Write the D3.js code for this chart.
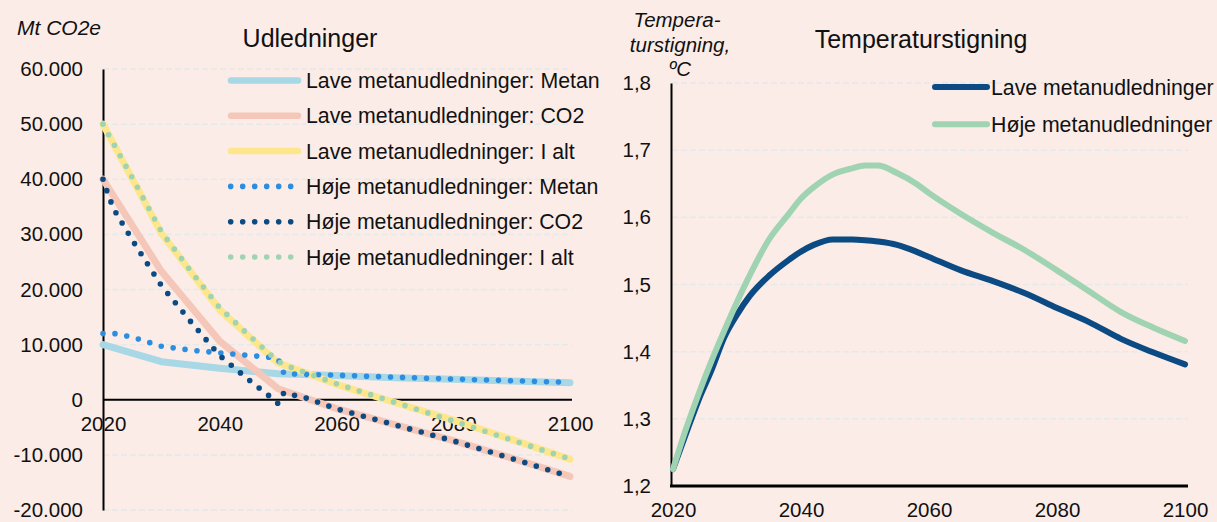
<!DOCTYPE html>
<html>
<head>
<meta charset="utf-8">
<script src="https://cdn.jsdelivr.net/npm/d3@7"></script>
<style>
  html, body { margin: 0; padding: 0; background: #fbece7; }
  svg { display: block; font-family: "Liberation Sans", Arial, sans-serif; }
</style>
</head>
<body>
<svg id="chart" width="1217" height="522"></svg>
<script>
// ---------- Data: Udledninger (Mt CO2e) ----------
const yearsLave = [2020, 2030, 2040, 2050, 2060, 2070, 2080, 2090, 2100];
const laveMetan = [10000, 6900, 5700, 4700, 4400, 4000, 3700, 3400, 3100];
const laveCO2   = [40000, 23300, 10600, 2000, -1600, -4500, -7400, -10600, -13900];
const laveIalt  = [50000, 30200, 16300, 6700, 2800, -500, -3700, -7200, -10800];

const yearsHoje = [2020, 2021, 2022, 2025, 2030, 2035, 2040, 2045, 2049, 2050, 2051, 2055, 2060, 2070, 2080, 2090, 2100];
const hojeMetan = [12000, 12050, 12000, 11350, 9700, 9000, 8500, 8050, 7650, 7400, 4750, 4600, 4450, 4100, 3750, 3450, 3150];
const hojeCO2   = [40000, 36800, 34300, 29000, 20700, 14200, 8000, 3600, 250, -700, 1300, 250, -1650, -4550, -7450, -10650, -13950];
const hojeIalt  = [50000, 48000, 46100, 40300, 30500, 23400, 16700, 11700, 7900, 7000, 6350, 4820, 2900, -480, -3850, -7300, -10750];

const emisLabels = ["Lave metanudledninger: Metan", "Lave metanudledninger: CO2", "Lave metanudledninger: I alt",
                    "Høje metanudledninger: Metan", "Høje metanudledninger: CO2", "Høje metanudledninger: I alt"];
const emisTicks = [-20000, -10000, 0, 10000, 20000, 30000, 40000, 50000, 60000];
const yearTicks = [2020, 2040, 2060, 2080, 2100];

// ---------- Data: Temperaturstigning (ºC) ----------
const yearsTemp = [2020, 2022, 2024, 2026, 2028, 2030, 2032, 2035, 2038, 2040, 2042, 2045, 2048, 2050, 2052, 2055, 2058, 2060, 2065, 2070, 2075, 2080, 2085, 2090, 2095, 2100];
const tempLave  = [1.225, 1.277, 1.328, 1.372, 1.421, 1.455, 1.483, 1.513, 1.536, 1.549, 1.559, 1.567, 1.567, 1.566, 1.564, 1.559, 1.549, 1.541, 1.521, 1.505, 1.487, 1.465, 1.444, 1.419, 1.399, 1.381];
const tempHoje  = [1.225, 1.284, 1.337, 1.386, 1.431, 1.474, 1.514, 1.567, 1.604, 1.628, 1.645, 1.664, 1.673, 1.677, 1.677, 1.666, 1.650, 1.636, 1.605, 1.577, 1.551, 1.521, 1.490, 1.459, 1.436, 1.416];
const tempLabels = ["Lave metanudledninger", "Høje metanudledninger"];
const tempTicks = [1.2, 1.3, 1.4, 1.5, 1.6, 1.7, 1.8];

// ---------- Styles ----------
const FONT = 20.5;
const LEG_FONT = 21.3;
const emisStyles = [
  { color: "#a8d8e6", dotted: false },
  { color: "#f5c7b9", dotted: false },
  { color: "#fde68c", dotted: false },
  { color: "#2c8ee0", dotted: true },
  { color: "#0b4a82", dotted: true },
  { color: "#9fd3b1", dotted: true }
];
const tempColors = ["#0b4a82", "#9fd3b1"];
const gridColor = "#e4e9e9";

const loc = d3.formatLocale({ decimal: ",", thousands: ".", grouping: [3], currency: ["", " kr"], minus: "-" });
const fmtEmis = loc.format(",.0f");
const fmtTemp = loc.format(".1f");

const svg = d3.select("#chart");

// ================= LEFT CHART =================
const xL = d3.scaleLinear().domain([2020, 2100]).range([103, 570]);
const yL = d3.scaleLinear().domain([-20000, 60000]).range([510, 69]);

const gL = svg.append("g");

gL.append("g").selectAll("line").data(emisTicks).join("line")
  .attr("x1", xL(2020)).attr("x2", 572)
  .attr("y1", d => yL(d)).attr("y2", d => yL(d))
  .attr("stroke", gridColor).attr("stroke-width", 1.5).attr("stroke-dasharray", "6 3");

const yAxisL = gL.append("g").attr("transform", `translate(${xL(2020)},0)`)
  .call(d3.axisLeft(yL).tickValues(emisTicks).tickFormat(fmtEmis).tickSize(0).tickPadding(20));
yAxisL.select(".domain").attr("stroke", "#000").attr("stroke-width", 2);
yAxisL.selectAll("text").attr("font-size", FONT).attr("fill", "#111").attr("font-family", "Liberation Sans, Arial, sans-serif");

const xAxisL = gL.append("g").attr("transform", `translate(0,${yL(0)})`)
  .call(d3.axisBottom(xL).tickValues(yearTicks).tickFormat(d3.format("d")).tickSize(0).tickPadding(17));
xAxisL.select(".domain").attr("stroke", "#000").attr("stroke-width", 2).attr("d", `M${xL(2020)},0H572`);
xAxisL.selectAll("text").attr("font-size", FONT).attr("fill", "#111").attr("font-family", "Liberation Sans, Arial, sans-serif");

const emisSeries = [
  { years: yearsLave, values: laveMetan },
  { years: yearsLave, values: laveCO2 },
  { years: yearsLave, values: laveIalt },
  { years: yearsHoje, values: hojeMetan },
  { years: yearsHoje, values: hojeCO2 },
  { years: yearsHoje, values: hojeIalt }
];
const lineL = d3.line().x(d => xL(d[0])).y(d => yL(d[1]));
emisSeries.forEach((s, i) => {
  const st = emisStyles[i];
  const pts = s.years.map((y, j) => [y, s.values[j]]);
  gL.append("path").datum(pts)
    .attr("d", lineL)
    .attr("fill", "none")
    .attr("stroke", st.color)
    .attr("stroke-width", st.dotted ? 5.6 : 7)
    .attr("stroke-linecap", "round")
    .attr("stroke-linejoin", "round")
    .attr("stroke-dasharray", st.dotted ? "0 12" : null);
});

const legL = gL.append("g");
emisLabels.forEach((lab, i) => {
  const st = emisStyles[i];
  const ly = 80.5 + i * 35.3;
  if (st.dotted) {
    legL.append("line").attr("x1", 230.7).attr("x2", 291).attr("y1", ly).attr("y2", ly)
      .attr("stroke", st.color).attr("stroke-width", 5.6).attr("stroke-linecap", "round")
      .attr("stroke-dasharray", "0 12");
  } else {
    legL.append("line").attr("x1", 231).attr("x2", 298).attr("y1", ly).attr("y2", ly)
      .attr("stroke", st.color).attr("stroke-width", 6.5).attr("stroke-linecap", "round");
  }
  legL.append("text").attr("x", 306).attr("y", ly).attr("dy", "0.36em")
    .attr("font-size", LEG_FONT).attr("fill", "#111").text(lab);
});

svg.append("text").attr("x", 310).attr("y", 47).attr("text-anchor", "middle")
  .attr("font-size", 25).attr("fill", "#111").text("Udledninger");
svg.append("text").attr("x", 17).attr("y", 35).attr("font-style", "italic")
  .attr("font-size", 21).attr("fill", "#111").text("Mt CO2e");

// ================= RIGHT CHART =================
const xR = d3.scaleLinear().domain([2020, 2100]).range([673, 1185]);
const yR = d3.scaleLinear().domain([1.2, 1.8]).range([486, 83]);
const gR = svg.append("g");

gR.append("g").selectAll("line").data(tempTicks.slice(1)).join("line")
  .attr("x1", 672).attr("x2", 1188)
  .attr("y1", d => yR(d)).attr("y2", d => yR(d))
  .attr("stroke", gridColor).attr("stroke-width", 1.5).attr("stroke-dasharray", "6 3");

const yAxisR = gR.append("g").attr("transform", `translate(671,0)`)
  .call(d3.axisLeft(yR).tickValues(tempTicks).tickFormat(fmtTemp).tickSize(0).tickPadding(20));
yAxisR.select(".domain").attr("stroke", "#000").attr("stroke-width", 2);
yAxisR.selectAll("text").attr("font-size", FONT).attr("fill", "#111").attr("font-family", "Liberation Sans, Arial, sans-serif");

const xAxisR = gR.append("g").attr("transform", `translate(0,${yR(1.2)})`)
  .call(d3.axisBottom(xR).tickValues(yearTicks).tickFormat(d3.format("d")).tickSize(0).tickPadding(16));
xAxisR.select(".domain").attr("stroke", "#000").attr("stroke-width", 3).attr("d", "M670,0H1188");
xAxisR.selectAll("text").attr("font-size", FONT).attr("fill", "#111").attr("font-family", "Liberation Sans, Arial, sans-serif");

const lineR = d3.line().x(d => xR(d[0])).y(d => yR(d[1])).curve(d3.curveMonotoneX);
[tempLave, tempHoje].forEach((vals, i) => {
  const pts = yearsTemp.map((y, j) => [y, vals[j]]);
  gR.append("path").datum(pts)
    .attr("d", lineR).attr("fill", "none")
    .attr("stroke", tempColors[i]).attr("stroke-width", 6)
    .attr("stroke-linecap", "round").attr("stroke-linejoin", "round");
});

const legR = gR.append("g");
tempLabels.forEach((lab, i) => {
  const ly = 87 + i * 37.3;
  legR.append("line").attr("x1", 935).attr("x2", 987).attr("y1", ly).attr("y2", ly)
    .attr("stroke", tempColors[i]).attr("stroke-width", 6).attr("stroke-linecap", "round");
  legR.append("text").attr("x", 991).attr("y", ly).attr("dy", "0.36em")
    .attr("font-size", LEG_FONT).attr("fill", "#111").text(lab);
});

svg.append("text").attr("x", 921).attr("y", 47.5).attr("text-anchor", "middle")
  .attr("font-size", 25).attr("fill", "#111").text("Temperaturstigning");

const yTitle = svg.append("text").attr("text-anchor", "middle").attr("font-style", "italic")
  .attr("font-size", FONT).attr("fill", "#111");
[["Tempera-", 677, 27], ["turstigning,", 680, 51.5], ["ºC", 680, 75.5]].forEach(([t, x, y]) => {
  yTitle.append("tspan").attr("x", x).attr("y", y).text(t);
});
</script>
</body>
</html>
